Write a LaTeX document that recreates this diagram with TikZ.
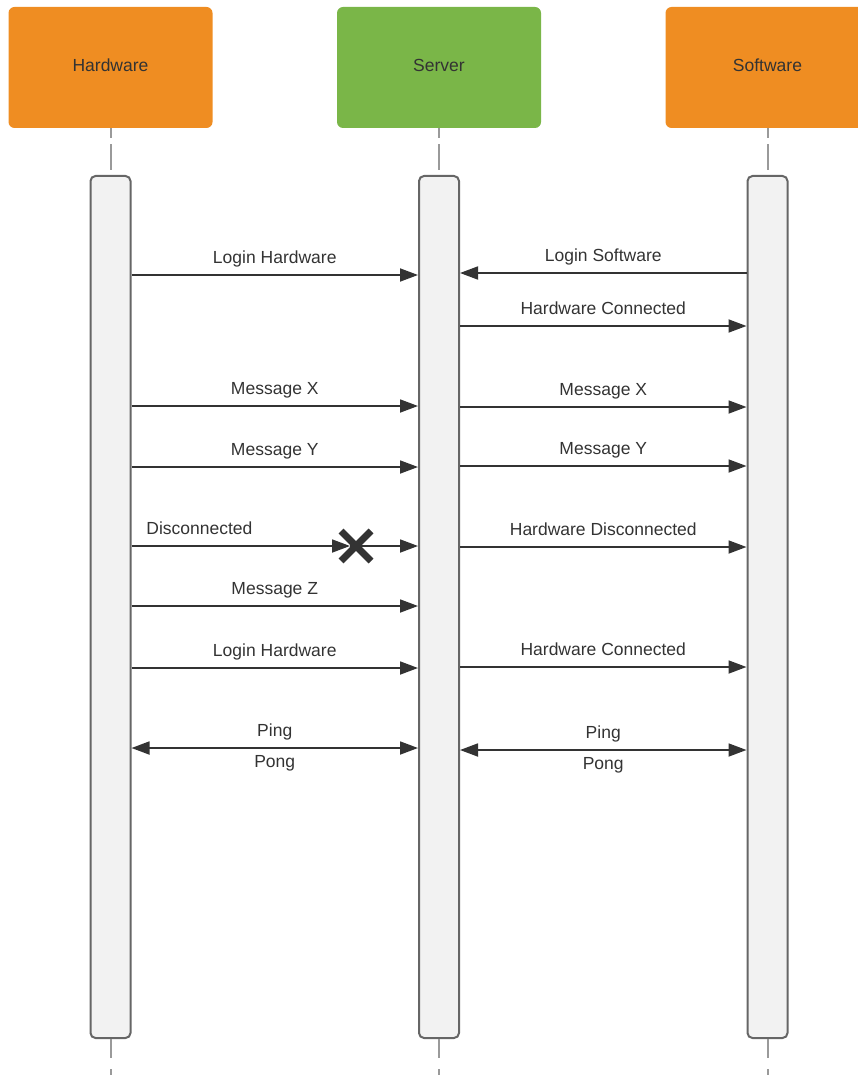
\documentclass[tikz,border=0pt]{standalone}
\usepackage{fontspec}
\setmainfont{Liberation Sans}
\usetikzlibrary{arrows.meta}
\definecolor{hworange}{HTML}{EF8D22}
\definecolor{svgreen}{HTML}{7AB648}
\definecolor{barfill}{HTML}{F2F2F2}
\definecolor{bargray}{HTML}{666666}
\definecolor{linegray}{HTML}{9A9A9A}
\definecolor{txt}{HTML}{333333}

\begin{document}
\begin{tikzpicture}[x=1pt, y=-1pt, font=\fontsize{17.5}{20}\selectfont, text=txt,
    actor/.style={rectangle, rounded corners=6pt, minimum width=204pt, minimum height=121pt, inner sep=0pt,
      text height=12.5pt, text depth=4pt},
    bar/.style={rectangle, rounded corners=5pt, draw=bargray, line width=2pt, fill=barfill,
      minimum width=40pt, minimum height=862pt, inner sep=0pt},
    life/.style={linegray, line width=2pt},
    msg/.style={txt, line width=1.8pt, -{Triangle[length=18pt,width=13pt]}},
    both/.style={txt, line width=1.8pt, {Triangle[length=18pt,width=13pt]}-{Triangle[length=18pt,width=13pt]}},
    lbl/.style={text height=12.5pt, text depth=3.5pt, inner sep=0pt}]
    \useasboundingbox (0,0) rectangle (858,1075);

    % Actors
    \node[actor, fill=hworange] (hw) at (110.5,67.5) {Hardware};
    \node[actor, fill=svgreen] (sv) at (439,67.5) {Server};
    \node[actor, fill=hworange] (sw) at (767.5,67.5) {Software};

    % Lifelines
    \node[bar] (hwbar) at (110.5,607) {};
    \node[bar] (svbar) at (439,607) {};
    \node[bar] (swbar) at (767.5,607) {};
    \foreach \a in {hw,sv,sw} {
      \draw[life, dash pattern=on 26pt off 6pt, dash phase=16pt] (\a.south) -- (\a bar.north);
      \draw[life, dash pattern=on 19pt off 11pt] (\a bar.south) -- (\a bar.south |- 0,1080);
    }

    % Messages
    \draw[msg] (hwbar.east |- 0,275) -- (svbar.west |- 0,275) node[lbl, midway, above=7pt] {Login Hardware};
    \draw[msg] (swbar.west |- 0,273) -- (svbar.east |- 0,273) node[lbl, midway, above=7pt] {Login Software};
    \draw[msg] (svbar.east |- 0,326) -- (swbar.west |- 0,326) node[lbl, midway, above=7pt] {Hardware Connected};

    \draw[msg] (hwbar.east |- 0,406) -- (svbar.west |- 0,406) node[lbl, midway, above=7pt] {Message X};
    \draw[msg] (svbar.east |- 0,407) -- (swbar.west |- 0,407) node[lbl, midway, above=7pt] {Message X};
    \draw[msg] (hwbar.east |- 0,467) -- (svbar.west |- 0,467) node[lbl, midway, above=7pt] {Message Y};
    \draw[msg] (svbar.east |- 0,466) -- (swbar.west |- 0,466) node[lbl, midway, above=7pt] {Message Y};

    % Lost message
    \coordinate (cut) at (350,546);
    \draw[msg] (hwbar.east |- cut) -- (cut) node[lbl, pos=0, anchor=south west, xshift=14pt, yshift=7.5pt] {Disconnected};
    \draw[msg] (cut) -- (svbar.west |- cut);
    \draw[txt, line width=7pt] (341,531) -- (371,561) (341,561) -- (371,531);
    \draw[msg] (svbar.east |- 0,547) -- (swbar.west |- 0,547) node[lbl, midway, above=7pt] {Hardware Disconnected};

    \draw[msg] (hwbar.east |- 0,606) -- (svbar.west |- 0,606) node[lbl, midway, above=7pt] {Message Z};
    \draw[msg] (hwbar.east |- 0,668) -- (svbar.west |- 0,668) node[lbl, midway, above=7pt] {Login Hardware};
    \draw[msg] (svbar.east |- 0,667) -- (swbar.west |- 0,667) node[lbl, midway, above=7pt] {Hardware Connected};

    % Keep alive
    \draw[both] (hwbar.east |- 0,748) -- (svbar.west |- 0,748)
      node[lbl, midway, above=7pt] {Ping} node[lbl, midway, below=6.5pt] {Pong};
    \draw[both] (svbar.east |- 0,750) -- (swbar.west |- 0,750)
      node[lbl, midway, above=7pt] {Ping} node[lbl, midway, below=6.5pt] {Pong};
  \end{tikzpicture}
\end{document}
